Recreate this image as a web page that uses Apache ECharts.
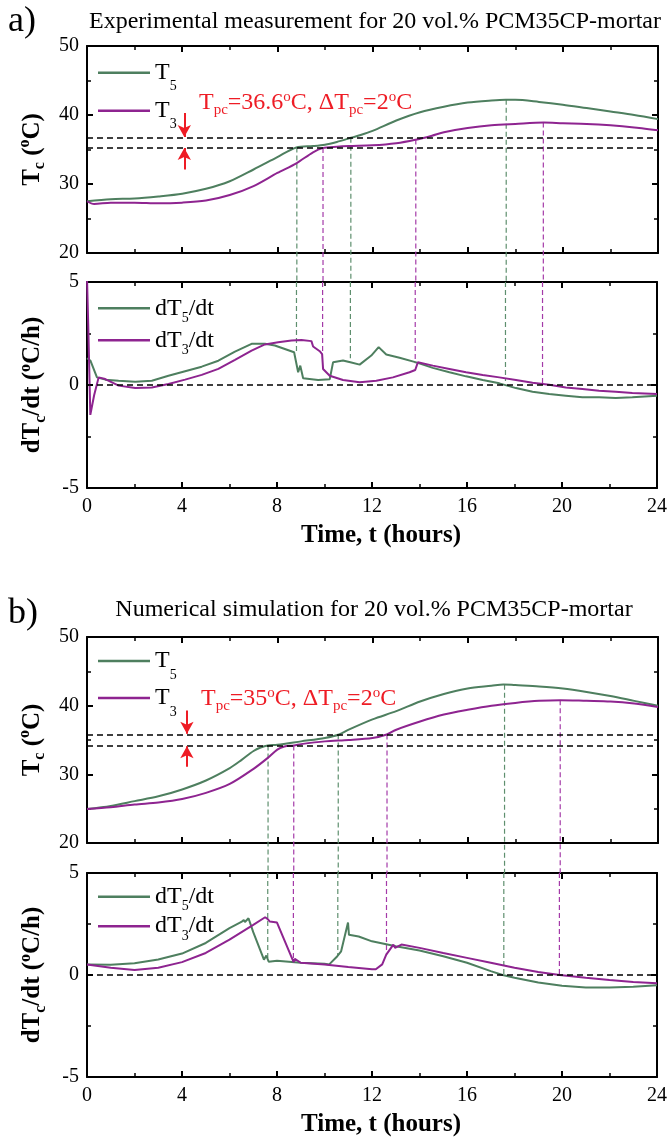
<!DOCTYPE html>
<html><head><meta charset="utf-8">
<script src="https://cdn.jsdelivr.net/npm/echarts@6/dist/echarts.min.js"></script>
<style>html,body{margin:0;padding:0;background:#fff}#c{width:670px;height:1138px}</style>
</head><body><div id="c"></div>
<script>
// ---------------- DATA ----------------
// Panel a (experimental) – core temperature, hours vs °C
const aT5 = [[0,27.5],[1,27.8],[2,27.9],[3,28.2],[4,28.6],[5,29.3],[6,30.4],[7,32.1],[8,33.9],[8.8,35.3],[9.5,35.5],[10,35.7],[10.5,36.1],[11.1,36.7],[11.5,37.1],[12,37.7],[13,39.2],[14,40.4],[15,41.2],[16,41.8],[17,42.1],[17.6,42.2],[18,42.2],[19,41.9],[20,41.5],[21,41.0],[22,40.5],[23,40.0],[24,39.4]];
const aT3 = [[0,27.5],[0.3,27.1],[1,27.3],[2,27.3],[3,27.2],[4,27.3],[5,27.6],[6,28.4],[7,29.7],[8,31.6],[8.8,33.0],[9.5,34.6],[9.9,35.2],[10.5,35.4],[11,35.5],[12,35.6],[13,35.9],[13.8,36.4],[14.5,37.0],[15,37.5],[16,38.1],[17,38.5],[18,38.7],[19.2,38.9],[20,38.8],[21,38.7],[22,38.5],[23,38.2],[24,37.8]];
// Panel a – rate of change, °C/h
const aDT5 = [[0,1.3],[0.14,1.19],[0.42,0.37],[0.77,0.26],[1.33,0.21],[2.03,0.16],[2.73,0.21],[3.43,0.45],[4.13,0.67],[4.83,0.89],[5.53,1.18],[6.23,1.62],[6.93,2.0],[7.49,2.0],[7.91,1.92],[8.33,1.75],[8.72,1.59],[8.82,1.02],[8.89,0.62],[8.98,0.94],[9.1,0.33],[9.17,0.24],[9.73,0.24],[10.22,0.28],[10.36,1.1],[10.78,1.19],[11.13,1.09],[11.48,0.99],[11.97,1.43],[12.28,1.84],[12.6,1.48],[13.16,1.32],[13.86,1.1],[14.56,0.83],[15.26,0.62],[15.96,0.42],[16.66,0.24],[17.36,0.08],[18.06,-0.15],[18.76,-0.33],[19.46,-0.44],[20.16,-0.52],[20.86,-0.6],[21.56,-0.6],[22.26,-0.63],[22.96,-0.6],[24,-0.52]];
const aDT3 = [[0,5.2],[0.05,3.0],[0.14,-1.45],[0.3,-0.5],[0.49,0.37],[0.77,0.29],[1.33,-0.03],[2.03,-0.15],[2.73,-0.12],[3.43,0.05],[4.13,0.26],[4.83,0.49],[5.53,0.78],[6.23,1.22],[6.93,1.67],[7.49,1.97],[8.05,2.08],[8.61,2.16],[9.03,2.19],[9.45,2.13],[9.52,1.87],[9.8,1.64],[9.9,1.5],[9.94,0.78],[10.22,0.45],[10.78,0.24],[11.48,0.13],[12.18,0.21],[12.88,0.37],[13.58,0.62],[13.82,0.73],[13.93,1.1],[14.56,0.94],[15.26,0.78],[15.96,0.62],[16.66,0.49],[17.36,0.37],[18.06,0.24],[18.76,0.11],[19.46,0.01],[20.16,-0.12],[20.86,-0.2],[21.56,-0.28],[22.26,-0.33],[22.96,-0.39],[24,-0.44]];
// Panel b (simulation)
const bT5 = [[0,24.95],[1,25.4],[2,26.1],[3,26.8],[4,27.8],[5,29.1],[6,30.9],[6.5,32.1],[7,33.4],[7.3,33.9],[7.6,34.2],[8,34.3],[9,34.8],[10,35.3],[10.6,35.8],[11,36.5],[12,38.0],[13,39.2],[14,40.6],[15,41.7],[16,42.5],[17,42.9],[17.5,43.1],[18,43.0],[19,42.8],[20,42.5],[21,42.0],[22,41.4],[23,40.7],[24,40.0]];
const bT3 = [[0,24.95],[1,25.2],[2,25.6],[3,25.9],[4,26.4],[5,27.3],[6,28.6],[7,30.8],[7.6,32.4],[8,33.6],[8.3,34.05],[8.7,34.2],[9,34.4],[10,34.8],[11,35.0],[12,35.3],[12.6,35.8],[13,36.5],[14,37.7],[15,38.7],[16,39.4],[17,40.0],[18,40.4],[19,40.7],[19.9,40.8],[21,40.7],[22,40.6],[23,40.3],[24,39.8]];
const bDT5 = [[0,0.52],[1,0.5],[2,0.58],[3,0.76],[4,1.05],[5,1.57],[6,2.3],[6.5,2.6],[6.6,2.7],[6.65,2.6],[6.8,2.78],[7.0,2.1],[7.45,0.75],[7.55,0.95],[7.65,0.65],[8,0.7],[8.5,0.65],[9,0.6],[10,0.55],[10.2,0.52],[10.54,0.92],[10.7,1.16],[10.99,2.57],[11.03,1.97],[11.44,1.89],[12,1.65],[13,1.41],[14,1.2],[15,0.92],[16,0.6],[17,0.19],[17.5,0],[18,-0.13],[19,-0.37],[20,-0.53],[21,-0.61],[22,-0.61],[23,-0.57],[24,-0.5]];
const bDT3 = [[0,0.52],[1,0.36],[2,0.24],[3,0.36],[4,0.63],[5,1.08],[6,1.73],[7,2.46],[7.5,2.83],[7.6,2.75],[7.7,2.62],[8.0,2.57],[8.7,0.63],[8.75,0.79],[9,0.6],[10,0.52],[11,0.39],[12,0.28],[12.16,0.28],[12.43,0.52],[12.6,1.0],[12.9,1.49],[12.97,1.33],[13.24,1.49],[14,1.33],[15,1.08],[16,0.84],[17,0.6],[18,0.36],[19,0.15],[19.9,0],[21,-0.13],[22,-0.24],[23,-0.34],[24,-0.4]];

// vertical phase-change markers: hour, value on T curve, value on dT/dt curve, which sensor
const aMarkHours = [8.82, 9.92, 11.09, 13.82, 17.62, 19.18];
const aMarkTop   = [35.3, 35.2, 36.7, 36.45, 42.2, 38.9];
const aMarkBot   = [1.6, 1.6, 1.3, 1.05, 0.2, 0.1];
const bMarkHours = [7.61, 8.69, 10.56, 12.61, 17.55, 19.89];
const bMarkTop   = [34.2, 34.2, 35.8, 35.8, 43.05, 40.8];
const bMarkBot   = [0.72, 0.7, 0.95, 1.0, 0, 0];
const markSensor = ['T5', 'T3', 'T5', 'T3', 'T5', 'T3'];
// phase-change band limits (°C) and arrows
const aBand = [36.7, 35.3];
const bBand = [35.8, 34.2];
const aArrowHour = 4.09, aArrowDown = [40.3, 36.8], aArrowUp = [32.1, 35.2];
const bArrowHour = 4.2,  bArrowDown = [39.3, 35.9], bArrowUp = [31.1, 34.1];

const xTicks = {min: 0, max: 24, interval: 4};
const tTicks = {min: 20, max: 50, interval: 10};
const dTicks = {min: -5, max: 5, interval: 5};

// ---------------- STYLE ----------------
const FF = "'Liberation Serif','Times New Roman',serif";
const GREEN = '#4E7F5F', PURPLE = '#8E2490';
const GREEN_D = '#5E8F6E', PURPLE_D = '#A43AA8';
const RED = '#EE1C25';

function rich(H, fs, ss, subOff, supOff, bold, color) {
  const w = bold ? 'bold' : 'normal';
  return {
    m: {fontSize: fs, fontFamily: FF, fontWeight: w, lineHeight: H, verticalAlign: 'middle', color: color, fill: color},
    s: {fontSize: ss, fontFamily: FF, fontWeight: w, lineHeight: ss, verticalAlign: 'top', padding: [H/2 + subOff - ss/2, 0, 0, 0], color: color, fill: color},
    p: {fontSize: ss, fontFamily: FF, fontWeight: w, lineHeight: ss, verticalAlign: 'top', padding: [H/2 - supOff - ss/2, 0, 0, 0], color: color, fill: color}
  };
}

const grids = [
  {left: 87, right: 12, top: 46, height: 207},
  {left: 87, right: 12, top: 282, height: 206},
  {left: 87, right: 12, top: 637, height: 206},
  {left: 87, right: 12, top: 873, height: 205}
];

function axisBase(extra) {
  return Object.assign({
    type: 'value',
    axisLine: {show: true, onZero: false, lineStyle: {color: '#000', width: 2}},
    axisTick: {show: true, inside: true, length: 6, lineStyle: {color: '#000', width: 2}},
    minorTick: {show: true, splitNumber: 2, length: 4, lineStyle: {color: '#000', width: 1.5}},
    splitLine: {show: false},
    minorSplitLine: {show: false},
    axisLabel: {show: false}
  }, extra);
}
const tickLabel = {show: true, fontSize: 20, fontFamily: FF, color: '#000', margin: 8};
const nameRich = rich(40, 25, 16, 8, 7, true, '#000');

const xAxis = [], yAxis = [];
for (let g = 0; g < 4; g++) {
  const isRate = g % 2 === 1;
  xAxis.push(axisBase(Object.assign({gridIndex: g, position: 'bottom'}, xTicks,
    isRate ? {axisLabel: Object.assign({}, tickLabel, {margin: 9}), name: 'Time, t (hours)', nameLocation: 'middle', nameGap: 35,
      nameTextStyle: {fontSize: 25, fontWeight: 'bold', fontFamily: FF, color: '#000', padding: [0, 0, 0, 18]}} : {})));
  xAxis.push(axisBase(Object.assign({gridIndex: g, position: 'top'}, xTicks)));
  const yt = isRate ? dTicks : tTicks;
  yAxis.push(axisBase(Object.assign({gridIndex: g, position: 'left', axisLabel: tickLabel,
    name: isRate ? '{m|dT}{s|c}{m|/dt (}{p|o}{m|C/h)}' : '{m|T}{s|c}{m| (}{p|o}{m|C)}',
    nameLocation: 'middle', nameRotate: 90, nameGap: 34, nameTextStyle: {rich: nameRich}}, yt)));
  yAxis.push(axisBase(Object.assign({gridIndex: g, position: 'right'}, yt)));
}

const series = [];
function curve(name, data, color, g, smooth) {
  series.push({name: name, type: 'line', xAxisIndex: 2*g, yAxisIndex: 2*g, data: data, showSymbol: false, symbol: 'none',
    smooth: smooth, lineStyle: {color: color, width: 2}, itemStyle: {color: color}, z: 3, silent: true});
}
curve('T5a', aT5, GREEN, 0, 0.3);
curve('T3a', aT3, PURPLE, 0, 0.3);
curve('dT5a', aDT5, GREEN, 1, false);
curve('dT3a', aDT3, PURPLE, 1, false);
curve('T5b', bT5, GREEN, 2, 0.3);
curve('T3b', bT3, PURPLE, 2, 0.3);
curve('dT5b', bDT5, GREEN, 3, false);
curve('dT3b', bDT3, PURPLE, 3, false);

// vertical dashed markers crossing from the T panel down to the rate panel
function markers(hours, tops, bots, gTop) {
  const gT = grids[gTop], gB = grids[gTop + 1];
  const gapPx = gB.top - (gT.top + gT.height);
  const ext = tTicks.min - gapPx * (tTicks.max - tTicks.min) / gT.height;
  hours.forEach(function (h, i) {
    const c = markSensor[i] === 'T5' ? GREEN_D : PURPLE_D;
    const ls = {color: c, width: 1.2, type: [5, 3]};
    series.push({type: 'line', xAxisIndex: 2*gTop, yAxisIndex: 2*gTop, data: [[h, tops[i]], [h, ext]], clip: false,
      showSymbol: false, symbol: 'none', lineStyle: ls, z: 1, silent: true});
    series.push({type: 'line', xAxisIndex: 2*(gTop+1), yAxisIndex: 2*(gTop+1), data: [[h, dTicks.max], [h, bots[i]]], clip: false,
      showSymbol: false, symbol: 'none', lineStyle: ls, z: 1, silent: true});
  });
}
markers(aMarkHours, aMarkTop, aMarkBot, 0);
markers(bMarkHours, bMarkTop, bMarkBot, 2);

function guides(g, band, arrowHour, down, up) {
  series.push({type: 'line', xAxisIndex: 2*g, yAxisIndex: 2*g, data: [], silent: true,
    markLine: {silent: true, animation: false, symbol: ['none', 'none'], label: {show: false},
      lineStyle: {color: '#000', type: [6, 4], width: 1.5},
      data: band.map(function (v) { return {yAxis: v}; }).concat([
        [{coord: [arrowHour, down[0]], lineStyle: {color: RED, type: 'solid', width: 2}, symbol: 'none'},
         {coord: [arrowHour, down[1]], symbol: 'arrow', symbolSize: [10, 12]}],
        [{coord: [arrowHour, up[0]], lineStyle: {color: RED, type: 'solid', width: 2}, symbol: 'none'},
         {coord: [arrowHour, up[1]], symbol: 'arrow', symbolSize: [10, 12]}]
      ])}});
  series.push({type: 'line', xAxisIndex: 2*(g+1), yAxisIndex: 2*(g+1), data: [], silent: true,
    markLine: {silent: true, animation: false, symbol: ['none', 'none'], label: {show: false},
      lineStyle: {color: '#000', type: [6, 4], width: 1.5}, data: [{yAxis: 0}]}});
}
guides(0, aBand, aArrowHour, aArrowDown, aArrowUp);
guides(2, bBand, bArrowHour, bArrowDown, bArrowUp);

const legendLabels = {
  T5a: '{m|T}{s|5}', T3a: '{m|T}{s|3}', T5b: '{m|T}{s|5}', T3b: '{m|T}{s|3}',
  dT5a: '{m|dT}{s|5}{m|/dt}', dT3a: '{m|dT}{s|3}{m|/dt}', dT5b: '{m|dT}{s|5}{m|/dt}', dT3b: '{m|dT}{s|3}{m|/dt}'
};
function legend(names, firstCenterY, step, H, subOff) {
  return {data: names, orient: 'vertical', left: 98, top: firstCenterY - H/2, padding: 0, itemGap: step - H,
    icon: 'rect', itemWidth: 52, itemHeight: 2.5, selectedMode: false,
    formatter: function (n) { return legendLabels[n]; },
    textStyle: {rich: rich(H, 24, 14, subOff, 0, false, '#000')}};
}

const annRich = rich(40, 24, 15, 8, 5, false, RED);
const option = {
  animation: false,
  backgroundColor: '#fff',
  grid: grids,
  xAxis: xAxis,
  yAxis: yAxis,
  series: series,
  legend: [
    legend(['T5a', 'T3a'], 72.7, 39, 44, 14),
    legend(['dT5a', 'dT3a'], 308.3, 35, 40, 10),
    legend(['T5b', 'T3b'], 661, 38, 44, 14),
    legend(['dT5b', 'dT3b'], 896.7, 32.5, 40, 10)
  ],
  graphic: [
    {type: 'text', x: 8, y: 22, style: {text: 'a)', fontSize: 36, fontFamily: FF, fill: '#000', verticalAlign: 'middle', textVerticalAlign: 'middle'}},
    {type: 'text', x: 375, y: 22, style: {text: 'Experimental measurement for 20 vol.% PCM35CP-mortar', fontSize: 24, fontFamily: FF, fill: '#000', align: 'center', textAlign: 'center', verticalAlign: 'middle', textVerticalAlign: 'middle'}},
    {type: 'text', x: 8, y: 614, style: {text: 'b)', fontSize: 36, fontFamily: FF, fill: '#000', verticalAlign: 'middle', textVerticalAlign: 'middle'}},
    {type: 'text', x: 374, y: 610, style: {text: 'Numerical simulation for 20 vol.% PCM35CP-mortar', fontSize: 24, fontFamily: FF, fill: '#000', align: 'center', textAlign: 'center', verticalAlign: 'middle', textVerticalAlign: 'middle'}},
    {type: 'text', x: 199, y: 102.5, style: {text: '{m|T}{s|pc}{m|=36.6}{p|o}{m|C, ΔT}{s|pc}{m|=2}{p|o}{m|C}', rich: annRich, fill: RED, verticalAlign: 'middle', textVerticalAlign: 'middle'}},
    {type: 'text', x: 201, y: 698.5, style: {text: '{m|T}{s|pc}{m|=35}{p|o}{m|C, ΔT}{s|pc}{m|=2}{p|o}{m|C}', rich: annRich, fill: RED, verticalAlign: 'middle', textVerticalAlign: 'middle'}}
  ]
};
const chart = echarts.init(document.getElementById('c'), null, {renderer: 'canvas'});
chart.setOption(option);
</script>
</body></html>
